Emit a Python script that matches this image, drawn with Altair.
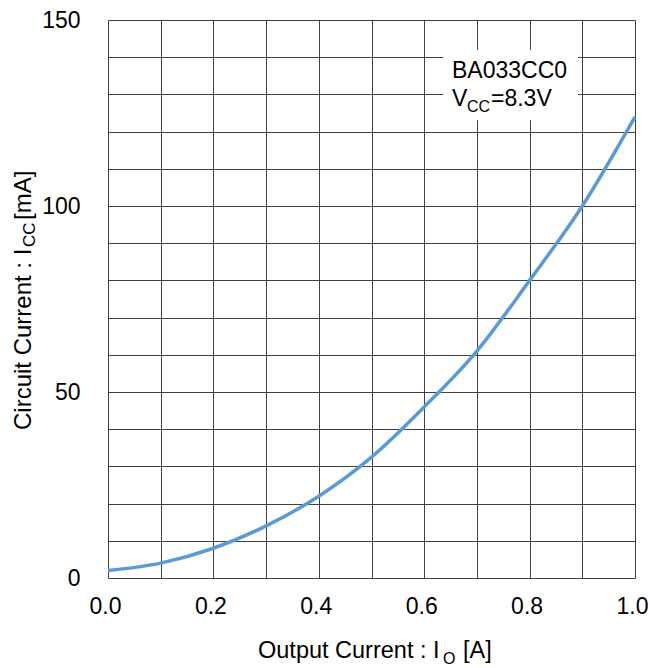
import altair as alt
import pandas as pd

io_a = [0.0, 0.1, 0.2, 0.3, 0.4, 0.5, 0.6, 0.7, 0.8, 0.9, 1.0]
icc_ma = [2.0, 4.0, 8.0, 14.0, 22.0, 32.5, 46.0, 61.0, 80.0, 100.0, 124.0]
x_ticks = [round(i * 0.1, 1) for i in range(11)]
y_ticks = list(range(0, 151, 10))

FONT = "Liberation Sans"
W, H = 527, 558

df = pd.DataFrame({"io": io_a, "icc": icc_ma})

xs = alt.Scale(domain=[0, 1], nice=False)
ys = alt.Scale(domain=[0, 150], nice=False)

line = alt.Chart(df).mark_line(color="#5B9BD5", strokeWidth=3.5, interpolate="monotone").encode(
    x=alt.X("io:Q", scale=xs, axis=alt.Axis(
        values=x_ticks, title=None, grid=True, gridColor="#404040", gridWidth=1, gridOpacity=1,
        ticks=False, domain=False, labelFont=FONT, labelFontSize=23, labelColor="#000",
        labelFontWeight="normal", labelFlush=False, labelPadding=17, labelOverlap=False,
        labelOffset=-3,
        labelExpr="round(datum.value*10) % 2 == 0 ? format(datum.value, '.1f') : ''")),
    y=alt.Y("icc:Q", scale=ys, axis=alt.Axis(
        values=y_ticks, title=None, grid=True, gridColor="#404040", gridWidth=1, gridOpacity=1,
        ticks=False, domain=False, labelFont=FONT, labelFontSize=23, labelColor="#000",
        labelFontWeight="normal", labelFlush=False, labelPadding=28, labelOverlap=False,
        labelExpr="datum.value % 50 == 0 ? format(datum.value, 'd') : ''")),
)

box = alt.Chart(df).mark_rect(fill="white").encode(
    x=alt.value(335), x2=alt.value(470), y=alt.value(30), y2=alt.value(100))

def txt(text, x, y, size=23, angle=0):
    kw = dict(text=text, font=FONT, fontSize=size, fontWeight="normal", color="#000",
              align="left", baseline="alphabetic")
    if angle:
        kw["angle"] = angle
    return alt.Chart(pd.DataFrame({"t": [text]})).mark_text(**kw).encode(
        x=alt.value(x), y=alt.value(y))

texts = [
    txt("BA033CC0", 344, 58),
    txt("V", 344, 86),
    txt("CC", 359, 92, 16),
    txt("=8.3V", 383, 86),
    txt("Output Current : I", 150, 638, 23.5),
    txt("O", 335, 644, 16),
    txt("[A]", 355, 638, 23.5),
    txt("Circuit Current : I", -77, 410, 24, 270),
    txt("CC", -73, 227, 17, 270),
    txt("[mA]", -77, 200, 24, 270),
]

chart = alt.layer(line, box, *texts).properties(
    width=W, height=H,
    autosize=alt.AutoSizeParams(type="none"),
    padding={"left": 108, "top": 20, "right": 15, "bottom": 90},
).configure_view(stroke="#000", strokeWidth=2).configure(background="white")

chart.save("out.html", embed_options={"renderer": "svg", "actions": False})
